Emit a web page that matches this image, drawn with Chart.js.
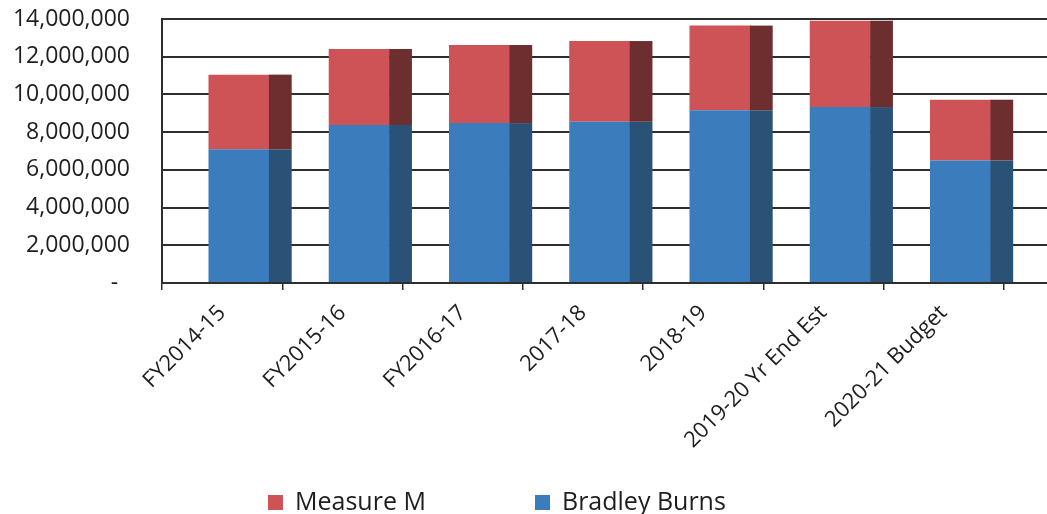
<!DOCTYPE html>
<html>
<head>
<meta charset="utf-8">
<script src="https://cdn.jsdelivr.net/npm/chart.js@4.4.1/dist/chart.umd.min.js"></script>
<style>
  html, body { margin: 0; padding: 0; background: #ffffff; overflow: hidden; }
  #wrap { position: relative; width: 1124px; height: 514px; }
</style>
</head>
<body>
<div id="wrap"><canvas id="chart"></canvas></div>
<script>
// Sales tax revenue by fiscal year (the trailing empty slot keeps the floor running past the last year)
const categories = ['FY2014-15', 'FY2015-16', 'FY2016-17', '2017-18', '2018-19', '2019-20 Yr End Est', '2020-21 Budget', ''];
const bradleyBurns = [7090000, 8380000, 8480000, 8550000, 9160000, 9330000, 6500000];
const measureM     = [3960000, 4030000, 4140000, 4280000, 4490000, 4580000, 3220000];
const yTickValues  = [0, 2000000, 4000000, 6000000, 8000000, 10000000, 12000000, 14000000];

const FONT = '"Open Sans", "Noto Sans", sans-serif';
const INK = '#1e1e1e';
const LINE = '#2e2e2e';

// Pseudo-3D columns: shift the front faces and add a darker side face to each segment
const depthFaces = {
  id: 'depthFaces',
  beforeDatasetsDraw(chart) {
    const band = chart.scales.x.width / chart.data.labels.length;
    chart.ctx.save();
    chart.ctx.translate(band * 0.14, 0);
  },
  afterDatasetsDraw(chart) {
    const ctx = chart.ctx;
    const band = chart.scales.x.width / chart.data.labels.length;
    chart.data.datasets.forEach((ds, i) => {
      const meta = chart.getDatasetMeta(i);
      meta.data.forEach(bar => {
        const p = bar.getProps(['x', 'y', 'base', 'width'], true);
        if (p.y == null || isNaN(p.y)) return;
        ctx.fillStyle = ds.sideColor;
        ctx.fillRect(p.x + p.width / 2 - 0.5, Math.min(p.y, p.base), band * 0.185 + 0.5, Math.abs(p.base - p.y));
      });
    });
    ctx.restore();
  }
};

// Bottom legend, listed top segment first
const bottomLegend = {
  id: 'bottomLegend',
  afterDraw(chart, args, opts) {
    const ctx = chart.ctx;
    const items = chart.data.datasets.slice().reverse();
    ctx.save();
    ctx.font = '25px ' + FONT;
    ctx.textBaseline = 'alphabetic';
    ctx.textAlign = 'left';
    items.forEach((ds, i) => {
      const x = opts.x[i];
      ctx.fillStyle = ds.backgroundColor;
      ctx.fillRect(x, opts.boxTop, opts.box, opts.box);
      ctx.fillStyle = INK;
      ctx.fillText(ds.label, x + opts.box + 12, opts.baseline);
    });
    ctx.restore();
  }
};

new Chart(document.getElementById('chart'), {
  type: 'bar',
  data: {
    labels: categories,
    datasets: [
      { label: 'Bradley Burns', data: bradleyBurns, backgroundColor: '#3b7cbd', sideColor: '#2a5277' },
      { label: 'Measure M', data: measureM, backgroundColor: '#cd5356', sideColor: '#6c2e2f' }
    ]
  },
  options: {
    responsive: true,
    maintainAspectRatio: false,
    animation: false,
    layout: { padding: { top: 19, left: 0, right: 0, bottom: 0 } },
    datasets: { bar: { barPercentage: 0.507, categoryPercentage: 1, borderWidth: 0 } },
    plugins: {
      legend: { display: false },
      tooltip: { enabled: false },
      bottomLegend: { x: [268, 535], box: 15, boxTop: 495, baseline: 510 }
    },
    scales: {
      x: {
        stacked: true,
        grid: { offset: true, drawOnChartArea: false, drawTicks: true, tickLength: 7, color: LINE, lineWidth: 1.5 },
        border: { display: true, color: LINE, width: 2 },
        ticks: {
          autoSkip: false, maxRotation: 45, minRotation: 45, padding: 10,
          color: INK, font: { family: FONT, size: 22 }
        },
        afterFit(scale) { scale.height = 231; }
      },
      y: {
        stacked: true,
        min: 0,
        max: 14000000,
        afterBuildTicks(scale) { scale.ticks = yTickValues.map(v => ({ value: v })); },
        grid: { color: LINE, lineWidth: 2, drawTicks: false },
        border: { display: true, color: LINE, width: 2 },
        ticks: {
          padding: 32,
          color: INK,
          font: { family: FONT, size: 23 },
          callback: v => v === 0 ? '-  ' : Number(v).toLocaleString('en-US')
        },
        afterFit(scale) {
          scale.width = 162;
          scale.paddingTop = 0;
          scale.paddingBottom = 0;
        }
      }
    }
  },
  plugins: [depthFaces, bottomLegend]
});
</script>
</body>
</html>
